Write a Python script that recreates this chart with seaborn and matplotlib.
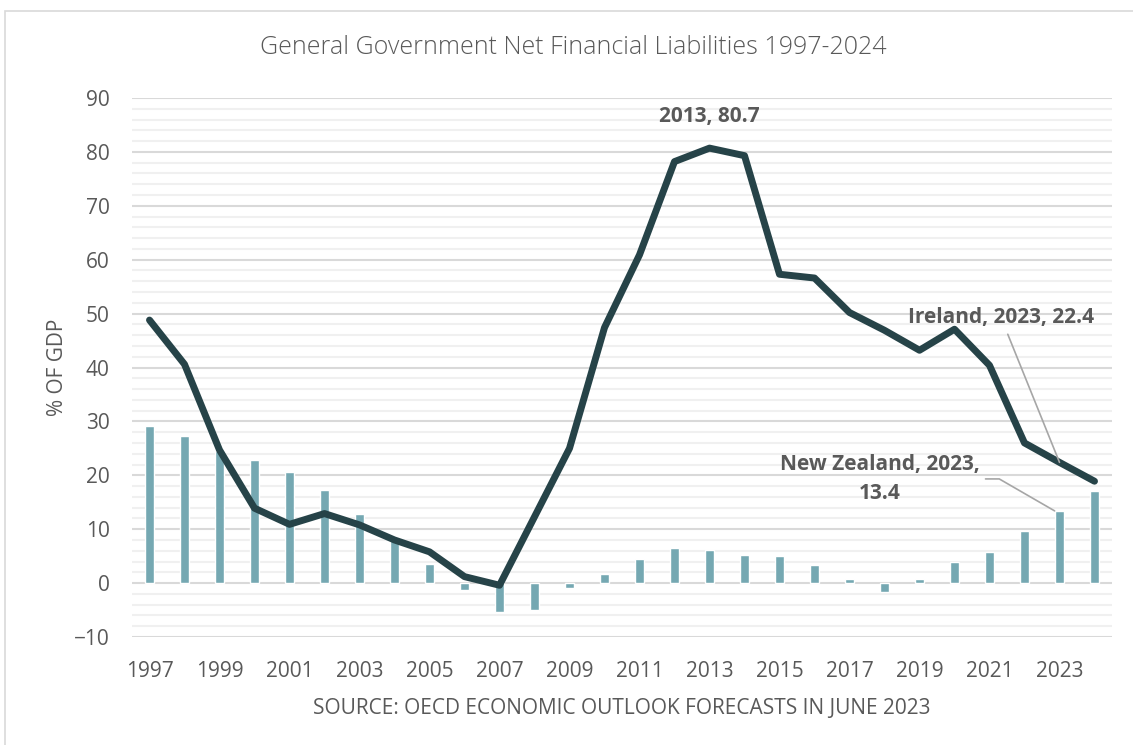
import numpy as np
import pandas as pd
import matplotlib
matplotlib.use("Agg")
import matplotlib.pyplot as plt
from matplotlib.patches import Rectangle
from matplotlib.ticker import MultipleLocator
import seaborn as sns

# General government net financial liabilities, % of GDP
years = list(range(1997, 2025))
new_zealand = [29.2, 27.2, 24.5, 22.9, 20.7, 17.2, 12.8, 8.0, 3.5, -1.2,
               -5.4, -5.0, -0.9, 1.6, 4.4, 6.6, 6.1, 5.2, 5.0, 3.3,
               0.8, -1.6, 0.8, 4.0, 5.8, 9.6, 13.4, 17.1]
ireland = [48.8, 40.6, 24.7, 13.9, 10.9, 12.9, 10.8, 8.0, 5.8, 1.2,
           -0.4, 12.3, 25.0, 47.4, 60.9, 78.2, 80.7, 79.3, 57.3, 56.6,
           50.2, 46.9, 43.2, 47.1, 40.4, 26.0, 22.4, 18.9]
tick_years = years[::2]

BAR = "#75A8B2"
LINE = "#264348"
TEXT = "#595959"

sns.set_style("white")
plt.rcParams["font.family"] = ["Open Sans", "DejaVu Sans"]

df = pd.DataFrame({
    "year": [str(y) for y in years],
    "pos": np.arange(len(years)),
    "nz": new_zealand,
    "ie": ireland,
})

fig = plt.figure(figsize=(11.33, 7.45), dpi=100)
ax = fig.add_axes([132 / 1133, 1 - 637 / 745, 980 / 1133, 539 / 745])

sns.barplot(data=df, x="year", y="nz", color=BAR, saturation=1, width=0.27,
            ax=ax, zorder=2)
sns.lineplot(data=df, x="pos", y="ie", color=LINE, lw=5, ax=ax, zorder=3,
             solid_capstyle="round", solid_joinstyle="round")

ax.set_xlim(-0.5, len(years) - 0.5)
ax.set_ylim(-10, 90)
ax.yaxis.set_major_locator(MultipleLocator(10))
ax.yaxis.set_minor_locator(MultipleLocator(2))
ax.set_xticks([years.index(y) for y in tick_years])
ax.set_xticklabels([str(y) for y in tick_years])

ax.grid(False)
ax.yaxis.grid(True, which="major", color="#d9d9d9", lw=1.5, zorder=0)
ax.yaxis.grid(True, which="minor", color="#f0f0f0", lw=1.5, zorder=0)
ax.set_axisbelow(True)
for s in ax.spines.values():
    s.set_visible(False)
ax.tick_params(axis="both", which="both", length=0, labelsize=15,
               labelcolor=TEXT)
ax.tick_params(axis="x", pad=17.5)
ax.tick_params(axis="y", pad=16)

ax.set_xlabel("SOURCE: OECD ECONOMIC OUTLOOK FORECASTS IN JUNE 2023",
              fontsize=15, color=TEXT)
ax.xaxis.set_label_coords(0.5, -0.113)
ax.set_ylabel("% OF GDP", fontsize=15, color=TEXT)
ax.yaxis.set_label_coords(-0.065, 0.5)

fig.text(573 / 1133, 1 - 47 / 745,
         "General Government Net Financial Liabilities 1997-2024",
         ha="center", va="center", fontsize=18, color=TEXT, fontweight="light")

# data callouts
i_peak = years.index(2013)
ax.annotate(f"{years[i_peak]}, {ireland[i_peak]}", xy=(i_peak, ireland[i_peak]),
            xytext=(0, 23), textcoords="offset points", ha="center", va="center",
            fontsize=15, fontweight="bold", color=TEXT)

i23 = years.index(2023)
ax.annotate(f"Ireland, {years[i23]}, {ireland[i23]}", xy=(i23, ireland[i23]),
            xytext=(-42, 104), textcoords="offset points", ha="center",
            va="center", fontsize=15, fontweight="bold", color=TEXT,
            arrowprops=dict(arrowstyle="-", color="#a6a6a6", lw=1.2,
                            shrinkA=2, shrinkB=0))
ax.annotate(f"New Zealand, {years[i23]},\n{new_zealand[i23]}",
            xy=(i23 - 0.14, new_zealand[i23]),
            xytext=(-126, 23), textcoords="offset points", ha="center",
            va="center", multialignment="center", linespacing=1.45,
            fontsize=15, fontweight="bold", color=TEXT,
            arrowprops=dict(arrowstyle="-", color="#a6a6a6", lw=1.2,
                            shrinkA=2, shrinkB=0,
                            connectionstyle="angle,angleA=0,angleB=-30,rad=0"))

# chart frame
fig.add_artist(Rectangle((5 / 1133, -0.2), 1.2, 1 - 11 / 745 + 0.2,
                         transform=fig.transFigure, fill=False,
                         ec="#d9d9d9", lw=1.2))

fig.savefig("out.png", dpi=100, facecolor="white")
